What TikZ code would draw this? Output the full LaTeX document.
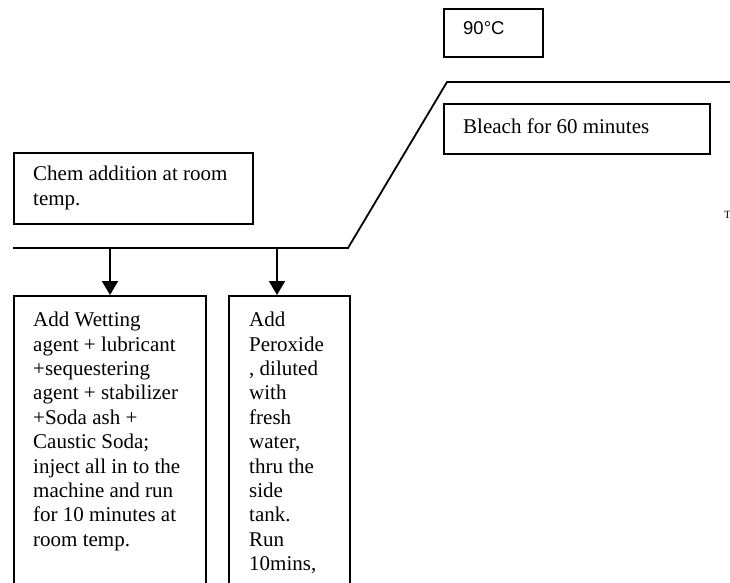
\documentclass[tikz,border=0pt]{standalone}
\usepackage{fontspec}
\setmainfont{Liberation Serif}
\newfontfamily\labelsans{Liberation Sans}
\usetikzlibrary{arrows.meta}
\tikzset{
  boxframe/.style={draw, line width=1.6pt, inner sep=0pt, anchor=north west},
  boxtext/.style={anchor=north west, align=left, inner sep=0pt,
    font=\fontsize{21pt}{24.4pt}\selectfont},
  flowline/.style={line width=1.8pt},
  downarrow/.style={line width=1.8pt, -{Triangle[width=16pt,length=14pt]}}
}
\begin{document}
\begin{tikzpicture}[x=1pt,y=-1pt]
\clip (0,0) rectangle (730,582);
\fill[white] (0,0) rectangle (730,582);

% boxes
\node[boxframe, minimum width=99pt, minimum height=48pt] (temp) at (443,8) {};
\node[anchor=base west, inner sep=0pt, font=\labelsans\fontsize{18.5pt}{20pt}\selectfont] (temptext) at (463,34) {90°C};

\node[boxframe, minimum width=266pt, minimum height=50pt] (bleach) at (443,103) {};
\node[boxtext, anchor=base west] (bleachtext) at (463,133) {Bleach for 60 minutes};

\node[boxframe, minimum width=239pt, minimum height=71pt] (chem) at (13,152) {};
\node[boxtext] (chemtext) at (33,166) {Chem addition at room\\temp.};

\node[boxframe, minimum width=192pt, minimum height=320pt] (left) at (13,295) {};
\node[boxtext] (lefttext) at (33,312) {Add Wetting\\agent + lubricant\\+sequestering\\agent + stabilizer\\+Soda ash +\\Caustic Soda;\\inject all in to the\\machine and run\\for 10 minutes at\\room temp.};

\node[boxframe, minimum width=121pt, minimum height=320pt] (right) at (228,295) {};
\node[boxtext] (righttext) at (249,312) {Add\\Peroxide\\, diluted\\with\\fresh\\water,\\thru the\\side\\tank.\\Run\\10mins,};

% temperature profile line
\coordinate (p0) at (13,248);
\coordinate (p1) at (348,248);
\coordinate (p2) at (447,82);
\coordinate (p3) at (732,82);
\draw[flowline] (p0) -- (p1) -- (p2) -- (p3);

% arrows
\coordinate (j1) at (110,248);
\coordinate (j2) at (277,248);
\draw[downarrow] (j1) -- (j1 |- left.north);
\draw[downarrow] (j2) -- (j2 |- right.north);

% clipped fragment at right edge
\node[anchor=base west, inner sep=0pt, font=\fontsize{11pt}{12pt}\selectfont] (frag) at (724,218) {T};
\end{tikzpicture}
\end{document}
